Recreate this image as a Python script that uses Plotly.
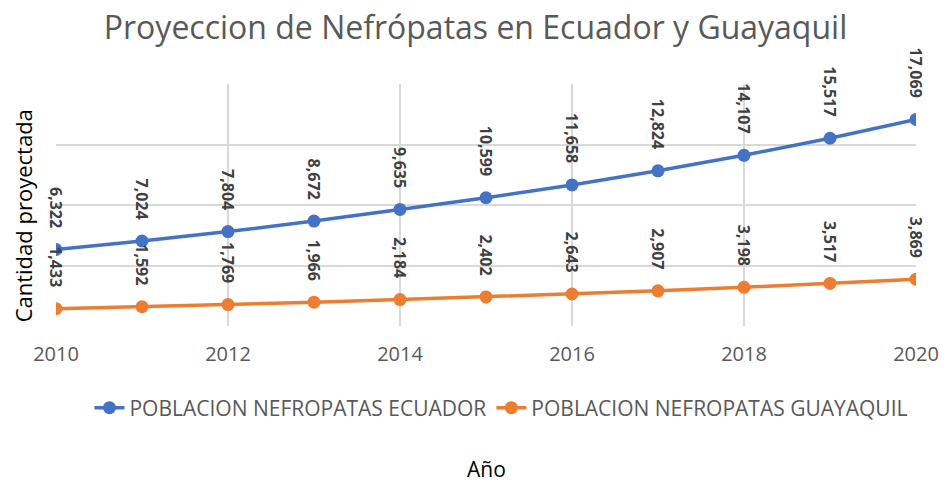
import plotly.graph_objects as go

years = [2010, 2011, 2012, 2013, 2014, 2015, 2016, 2017, 2018, 2019, 2020]
ecuador = [6322, 7024, 7804, 8672, 9635, 10599, 11658, 12824, 14107, 15517, 17069]
guayaquil = [1433, 1592, 1769, 1966, 2184, 2402, 2643, 2907, 3198, 3517, 3869]
name_ec = "POBLACION NEFROPATAS ECUADOR"
name_gy = "POBLACION NEFROPATAS GUAYAQUIL"
title = "Proyeccion de Nefrópatas en Ecuador y Guayaquil"
x_ticks = [2010, 2012, 2014, 2016, 2018, 2020]
y_grid = [0, 5000, 10000, 15000, 20000]

BLUE = "#4472C4"
ORANGE = "#ED7D31"
FONT = "Open Sans"

fig = go.Figure()
for name, vals, col in [(name_ec, ecuador, BLUE), (name_gy, guayaquil, ORANGE)]:
    fig.add_trace(go.Scatter(x=years, y=vals, name=name, mode="lines+markers",
                             line=dict(color=col, width=3.5),
                             marker=dict(color=col, size=13)))

annotations = []
for vals in (ecuador, guayaquil):
    for x, v in zip(years, vals):
        annotations.append(dict(x=x, y=v, xref="x", yref="y", text=f"{v:,}",
                                textangle=90, showarrow=False, yanchor="bottom",
                                yshift=20,
                                font=dict(family=FONT, size=16, color="#404040", weight="bold")))

annotations.append(dict(x=0.5, y=-0.59, xref="paper", yref="paper", text="Año",
                        showarrow=False, yanchor="middle",
                        font=dict(family=FONT, size=21, color="#000000")))
annotations.append(dict(x=-0.039, y=0.455, xref="paper", yref="paper", text="Cantidad proyectada",
                        showarrow=False, textangle=-90, xanchor="center",
                        font=dict(family=FONT, size=22, color="#000000")))

fig.update_layout(
    width=951, height=483,
    margin=dict(l=56, r=25, t=84, b=157),
    paper_bgcolor="white", plot_bgcolor="white",
    title=dict(text=title, x=0.5, xanchor="center", y=0.942, yanchor="middle",
               font=dict(family=FONT, size=32, color="#595959")),
    xaxis=dict(range=[2010, 2020], tickvals=x_ticks,
               showgrid=True, gridcolor="#D9D9D9", gridwidth=1.5,
               zeroline=False, showline=False, ticks="", ticklabelstandoff=14,
               tickfont=dict(family=FONT, size=20, color="#595959")),
    yaxis=dict(range=[0, 20000], tickvals=y_grid,
               showticklabels=False, showgrid=True, gridcolor="#D9D9D9", gridwidth=1.5,
               zeroline=False, showline=False, ticks=""),
    legend=dict(orientation="h", x=0.518, xanchor="center", y=-0.339, yanchor="middle",
                font=dict(family=FONT, size=21, color="#595959")),
    annotations=annotations,
)

fig.write_html("out.html", config={"displayModeBar": False},
               post_script="document.body.style.margin='0';")
